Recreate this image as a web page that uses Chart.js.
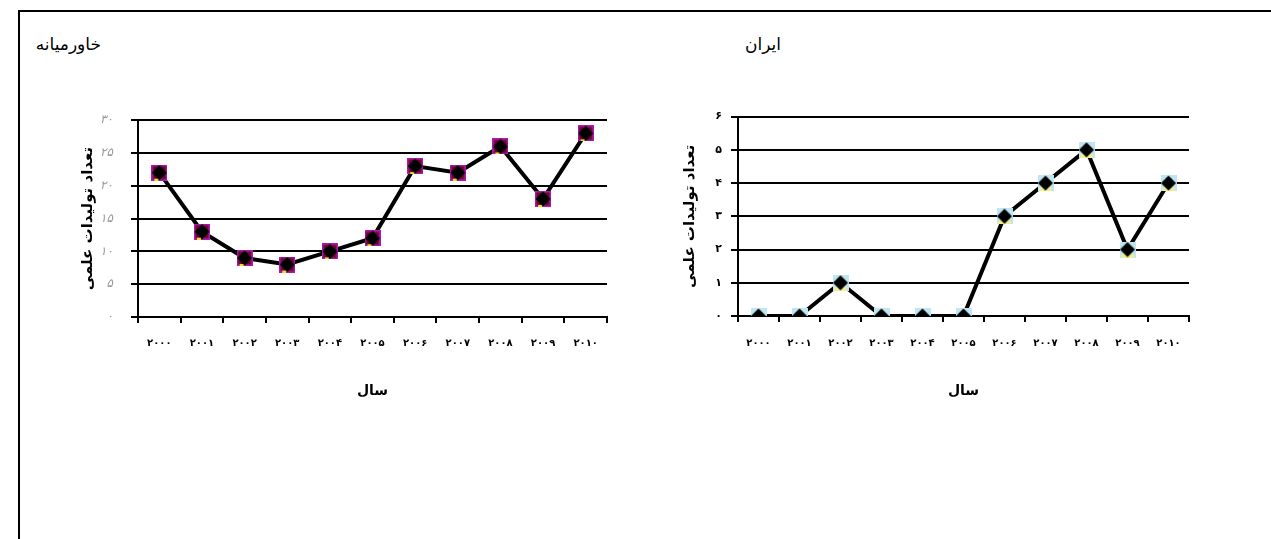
<!DOCTYPE html>
<html>
<head>
<meta charset="utf-8">
<script src="https://cdn.jsdelivr.net/npm/chart.js@4.4.0/dist/chart.umd.min.js"></script>
<style>
  html, body { margin:0; padding:0; background:#fff; width:1271px; height:539px; overflow:hidden; }
  #frame { position:absolute; left:18px; top:10px; width:1300px; height:600px; border-top:2px solid #000; border-left:2px solid #000; box-sizing:border-box; }
  .ttl { position:absolute; font-family:"DejaVu Sans", sans-serif; font-size:17px; color:#000; direction:rtl; text-align:right; white-space:nowrap; }
  canvas { position:absolute; }
</style>
</head>
<body>
<div id="frame"></div>
<div class="ttl" id="t1" style="right:1170px; top:34px;"></div>
<div class="ttl" id="t2" style="right:490px; top:34px;"></div>
<div id="w1" style="position:absolute; left:60px; top:95px; width:560px; height:315px;"><canvas id="c1"></canvas></div>
<div id="w2" style="position:absolute; left:660px; top:101px; width:560px; height:305px;"><canvas id="c2"></canvas></div>
<script>
// ---- data ----
const categories = ['۲۰۰۰','۲۰۰۱','۲۰۰۲','۲۰۰۳','۲۰۰۴','۲۰۰۵','۲۰۰۶','۲۰۰۷','۲۰۰۸','۲۰۰۹','۲۰۱۰'];
const middleEastValues = [22, 13, 9, 8, 10, 12, 23, 22, 26, 18, 28];
const iranValues = [0, 0, 1, 0, 0, 0, 3, 4, 5, 2, 4];
const middleEastTicks = ['۰','۵','۱۰','۱۵','۲۰','۲۵','۳۰'];
const iranTicks = ['۰','۱','۲','۳','۴','۵','۶'];
const middleEastTitle = 'خاورمیانه';
const iranTitle = 'ایران';
const yTitle = 'تعداد تولیدات علمی';
const xTitle = 'سال';

document.getElementById('t1').textContent = middleEastTitle;
document.getElementById('t2').textContent = iranTitle;

const FONT = '"DejaVu Sans", sans-serif';

function marker(kind) {
  const s = 16;
  const c = document.createElement('canvas');
  c.width = s; c.height = s;
  const g = c.getContext('2d');
  if (kind === 'me') {
    g.fillStyle = '#6a0a30'; g.fillRect(0,0,s,s);
    g.strokeStyle = '#b018b0'; g.lineWidth = 1.5; g.strokeRect(0.75,0.75,s-1.5,s-1.5);
    g.fillStyle = '#f0e020'; g.fillRect(3,s-2,4,2);
  } else {
    g.fillStyle = '#bfe6f2'; g.fillRect(0,0,s,s);
    g.fillStyle = '#f2ee90'; g.fillRect(2,s-4,s-4,4);
  }
  g.fillStyle = '#000';
  g.beginPath();
  g.moveTo(s/2, 0.5); g.lineTo(s-0.5, s/2); g.lineTo(s/2, s-0.5); g.lineTo(0.5, s/2);
  g.closePath(); g.fill();
  return c;
}

function makeChart(id, values, ticks, step, max, opts) {
  return new Chart(document.getElementById(id), {
    type: 'line',
    data: {
      labels: categories,
      datasets: [{
        data: values,
        borderColor: '#000',
        borderWidth: 4,
        tension: 0,
        pointStyle: marker(opts.kind),
        pointRadius: 8,
        pointHoverRadius: 8
      }]
    },
    options: {
      responsive: true,
      maintainAspectRatio: false,
      animation: false,
      events: [],
      layout: { padding: { top: 10, right: opts.rightPad, left: 0, bottom: 0 } },
      plugins: { legend: { display: false }, tooltip: { enabled: false }, title: { display: false } },
      scales: {
        x: {
          type: 'category',
          offset: true,
          grid: { drawOnChartArea: false, drawTicks: true, tickLength: 6, color: '#000', lineWidth: 2, offset: true },
          border: { display: true, color: '#000', width: 2 },
          ticks: { color: '#000', font: { family: FONT, size: 10, weight: 'bold' }, padding: opts.xPad, maxRotation: 0, autoSkip: false },
          title: { display: true, text: xTitle, color: '#000', font: { family: FONT, size: 14, weight: 'bold' }, padding: { top: 0, bottom: opts.xTitlePad } },
          afterFit: (s) => { s.height = opts.xHeight; }
        },
        y: {
          min: 0, max: max,
          ticks: {
            stepSize: step,
            color: opts.yTickColor,
            font: { family: FONT, size: opts.yTickSize, weight: opts.yTickWeight, style: opts.yTickStyle },
            padding: opts.yPad,
            callback: (v) => ticks[Math.round(v / step)]
          },
          grid: { color: '#000', lineWidth: 2, drawTicks: true, tickLength: 7 },
          border: { display: true, color: '#000', width: 2 },
          title: { display: true, text: yTitle, color: '#000', font: { family: FONT, size: 15, weight: 'bold' }, padding: { top: opts.yTitlePad, bottom: 0 } },
          afterFit: (s) => { s.width = 78; }
        }
      }
    }
  });
}

makeChart('c1', middleEastValues, middleEastTicks, 5, 30, {
  kind: 'me', rightPad: 13, xHeight: 93, xPad: 14, xTitlePad: 10, yPad: 18, yTitlePad: 19,
  yTickColor: '#999999', yTickWeight: 'normal', yTickStyle: 'italic', yTickSize: 12
});
makeChart('c2', iranValues, iranTicks, 1, 6, {
  kind: 'ir', rightPad: 31, xHeight: 90, xPad: 15, xTitlePad: 6, yPad: 9, yTitlePad: 21,
  yTickColor: '#000', yTickWeight: 'bold', yTickStyle: 'normal', yTickSize: 11
});
</script>
</body>
</html>
